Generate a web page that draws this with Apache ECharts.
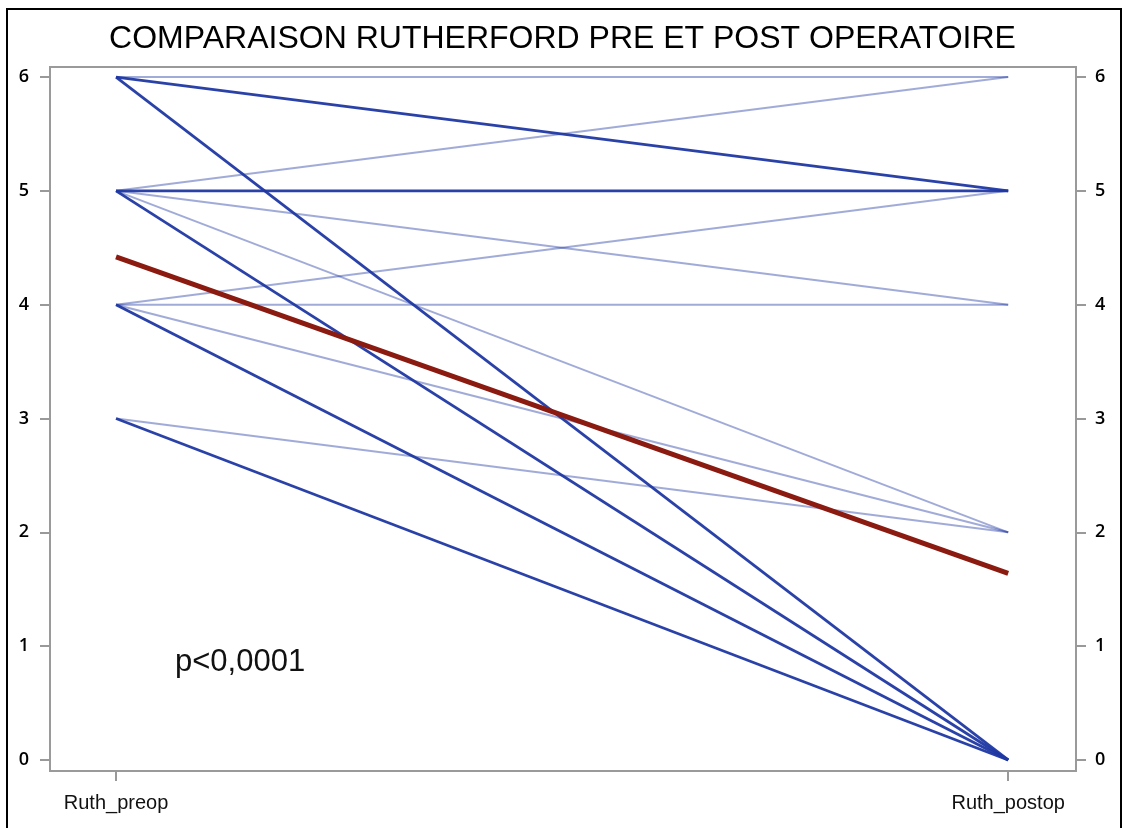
<!DOCTYPE html>
<html>
<head>
<meta charset="utf-8">
<script src="https://cdn.jsdelivr.net/npm/echarts@6/dist/echarts.min.js"></script>
<style>
  html, body { margin: 0; padding: 0; background: #fff; }
  #chart { width: 1125px; height: 828px; }
</style>
</head>
<body>
<div id="chart"></div>
<script>
// pre/post Rutherford pairs, count = how many patients share the same segment
const timepoints = ['Ruth_preop', 'Ruth_postop']
const preop  = [6, 6, 6, 5, 5, 5, 5, 5, 4, 4, 4, 4, 3, 3]
const postop = [6, 5, 0, 6, 5, 4, 2, 0, 5, 4, 2, 0, 2, 0]
const count  = [1, 3, 3, 1, 3, 1, 1, 3, 1, 1, 1, 3, 1, 4]
// mean line
const meanValues = [4.42, 1.64]
const yTicks = [0, 1, 2, 3, 4, 5, 6]

const chart = echarts.init(document.getElementById('chart'))

const pairSeries = preop.map((p, i) => ({
  type: 'line',
  data: [[0, p], [1, postop[i]]],
  showSymbol: false,
  silent: true,
  lineStyle: {
    color: '#1f38a3',
    width: count[i] > 1 ? 2.8 : 2,
    opacity: count[i] > 1 ? 0.95 : 0.42
  },
  z: count[i] > 1 ? 3 : 2
}))

const yAxisBase = {
  type: 'value',
  min: -0.097,
  max: 6.088,
  splitLine: { show: false },
  axisLine: { show: false, onZero: false },
  axisTick: {
    show: true,
    customValues: yTicks,
    length: 10,
    lineStyle: { color: '#999', width: 2 }
  },
  axisLabel: {
    customValues: yTicks,
    color: '#000',
    fontFamily: 'Open Sans',
    fontWeight: 600,
    fontSize: 18,
    margin: 21
  }
}

chart.setOption({
  animation: false,
  title: {
    text: 'COMPARAISON RUTHERFORD PRE ET POST OPERATOIRE',
    left: 'center',
    top: 18,
    textStyle: {
      fontFamily: 'Liberation Sans',
      fontWeight: 'normal',
      fontSize: 32,
      color: '#000'
    }
  },
  grid: {
    left: 50,
    right: 49,
    top: 67,
    bottom: 57,
    show: true,
    borderColor: '#9a9a9a',
    borderWidth: 2
  },
  xAxis: {
    type: 'value',
    min: -0.074,
    max: 1.076,
    splitLine: { show: false },
    axisLine: { show: false, onZero: false },
    axisTick: {
      show: true,
      customValues: [0, 1],
      length: 10,
      lineStyle: { color: '#999', width: 2 }
    },
    axisLabel: {
      customValues: [0, 1],
      formatter: v => timepoints[Math.round(v)],
      color: '#111',
      fontFamily: 'Liberation Sans',
      fontSize: 20,
      margin: 22
    }
  },
  yAxis: [
    Object.assign({}, yAxisBase, { position: 'left' }),
    Object.assign({}, yAxisBase, { position: 'right',
      axisLabel: Object.assign({}, yAxisBase.axisLabel, { margin: 19 }) })
  ],
  series: pairSeries.concat([{
    type: 'line',
    data: meanValues.map((v, i) => [i, v]),
    showSymbol: false,
    silent: true,
    lineStyle: { color: '#8b1a10', width: 5 },
    z: 5
  }]),
  graphic: [
    {
      type: 'rect',
      shape: { x: 7, y: 9, width: 1114, height: 840 },
      style: { fill: 'none', stroke: '#000', lineWidth: 2 },
      silent: true
    },
    {
      type: 'text',
      left: 175,
      top: 647,
      style: {
        text: 'p<0,0001',
        fontFamily: 'Liberation Sans',
        fontSize: 31,
        fill: '#111'
      }
    }
  ]
})
</script>
</body>
</html>
